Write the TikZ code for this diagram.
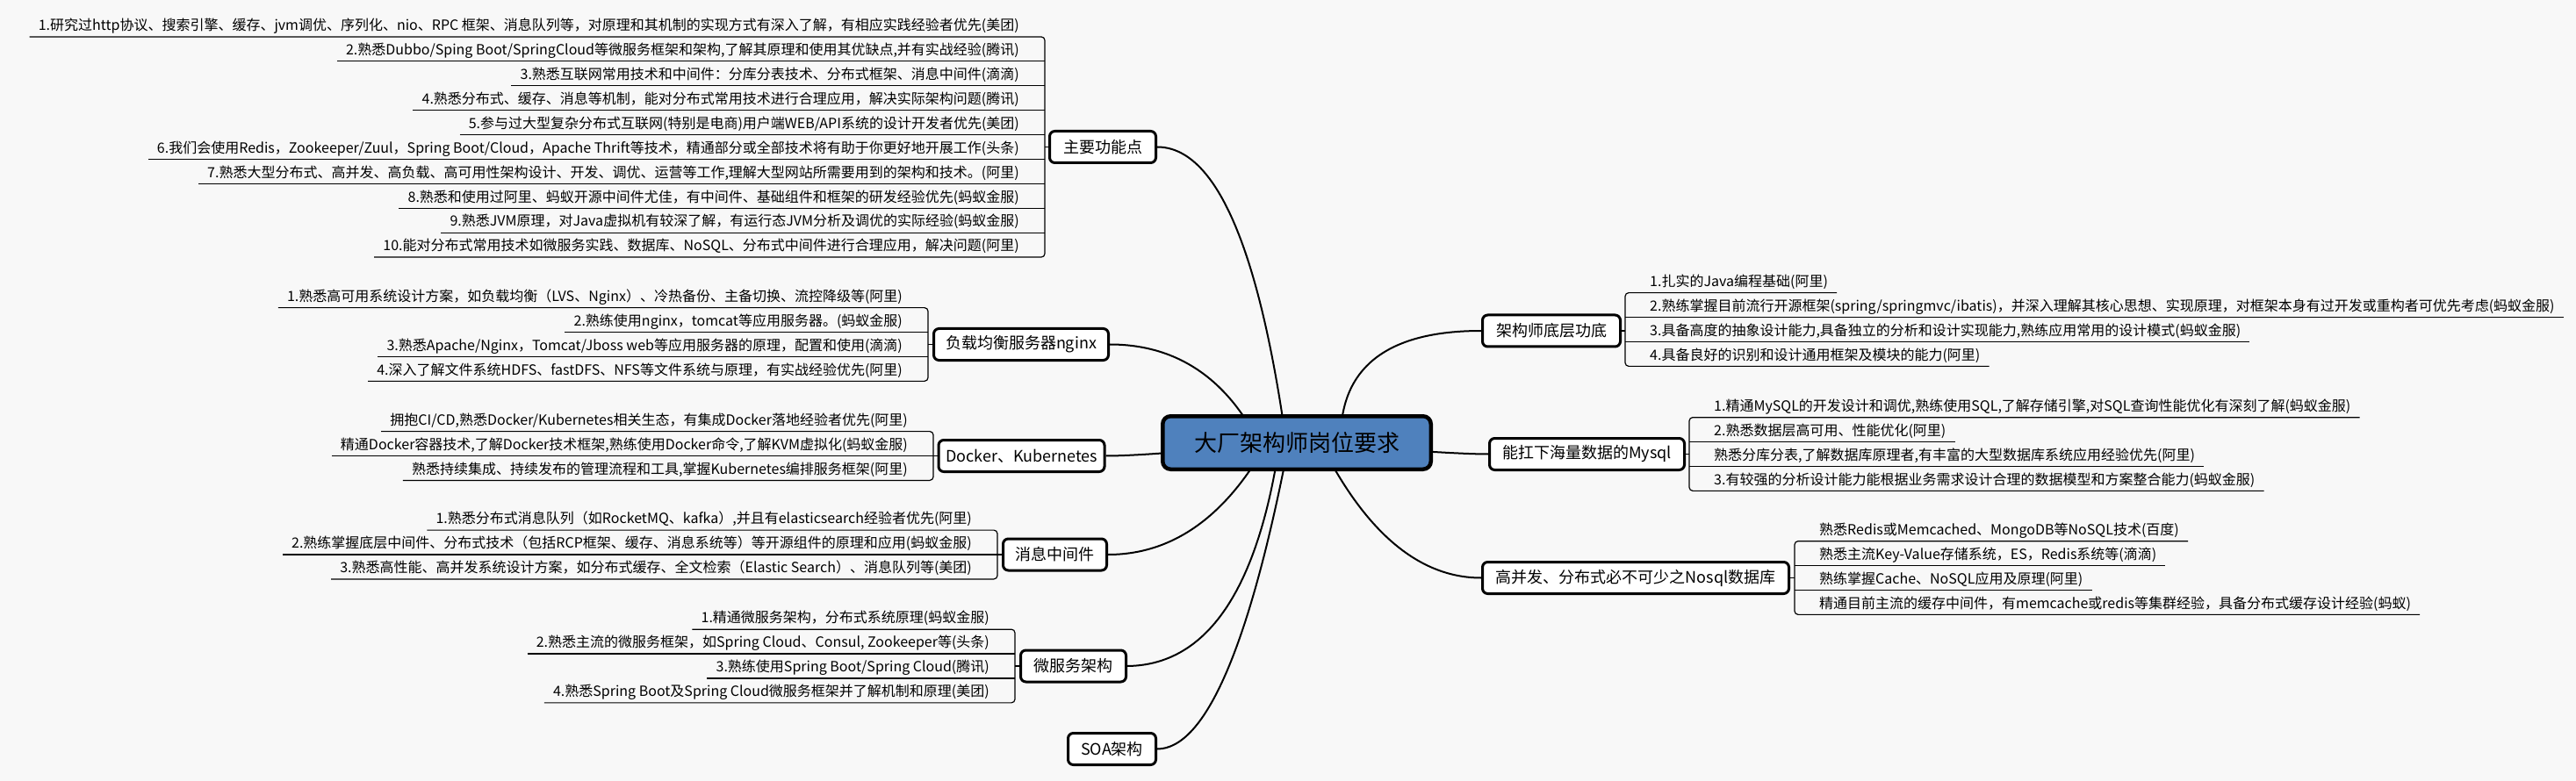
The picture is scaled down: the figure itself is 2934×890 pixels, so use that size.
\documentclass[tikz,border=0pt]{standalone}
\usepackage{fontspec}
\setmainfont{Noto Sans CJK SC}
\usetikzlibrary{backgrounds}
\definecolor{bgc}{HTML}{F8F8F8}
\definecolor{rootblue}{HTML}{4F81BD}
\tikzset{
  rootbox/.style={draw=black, line width=4.5pt, fill=rootblue, rounded corners=9pt,
    minimum width=305.5pt, minimum height=60.5pt, inner sep=0pt,
    font=\fontsize{26pt}{30pt}\selectfont},
  branchbox/.style={draw=black, line width=3pt, fill=white, rounded corners=6pt,
    minimum height=36pt, inner xsep=8pt, inner ysep=0pt,
    font=\fontsize{18pt}{22pt}\selectfont},
  leaf/.style={inner sep=0pt, text height=13pt, text depth=7pt,
    font=\fontsize{16pt}{19pt}\selectfont},
  leafL/.style={leaf, anchor=south east},
  leafR/.style={leaf, anchor=south west},
  uline/.style={line width=1.2pt, draw=black},
  conn/.style={line width=2pt, draw=black},
}
\newcommand\LLeaf[4]{\node[leafL] (#1) at (#2-29,#3) {#4};
  \draw[uline] ([xshift=-10pt]#1.south west) -- (#2,#3);}
\newcommand\LLeafE[4]{\node[leafL] (#1) at (#2-29,#3) {#4};}
\newcommand\RLeaf[4]{\node[leafR] (#1) at (#2+28,#3) {#4};
  \draw[uline] (#2,#3) -- ([xshift=10pt]#1.south east);}
\newcommand\RLeafE[4]{\node[leafR] (#1) at (#2+28,#3) {#4};}
\begin{document}
\begin{tikzpicture}[x=1pt,y=-1pt]
\useasboundingbox (0,0) rectangle (2934,890);

% ---------- root and branches ----------
\node[rootbox] (root) at (1477,504.5) {大厂架构师岗位要求};

\node[branchbox, minimum width=121pt] (mainpts) at (1256,167.5) {主要功能点};
\node[branchbox, minimum width=199pt] (nginx) at (1163,392.5) {负载均衡服务器nginx};
\node[branchbox, minimum width=188pt] (docker) at (1163.5,519.5) {Docker、Kubernetes};
\node[branchbox, minimum width=118pt] (mq) at (1201.5,632) {消息中间件};
\node[branchbox, minimum width=120pt] (micro) at (1222.5,759) {微服务架构};
\node[branchbox, minimum width=100pt] (soa) at (1266.5,853.5) {SOA架构};
\node[branchbox, minimum width=157pt] (arch) at (1767,377) {架构师底层功底};
\node[branchbox, minimum width=222pt] (mysql) at (1807.5,517.5) {能扛下海量数据的Mysql};
\node[branchbox, minimum width=349pt] (nosql) at (1863,658.5) {高并发、分布式必不可少之Nosql数据库};

% ---------- connectors (behind) ----------
\begin{scope}[on background layer]
\fill[bgc] (0,0) rectangle (2934,890);
\draw[conn] (mainpts.east) .. controls (1384.2,167.5) and (1433.7,279.8) .. ([xshift=-12pt]root.center);
\draw[conn] (nginx.east) .. controls (1338.8,392.5) and (1396,429.8) .. ([xshift=-43pt]root.center);
\draw[conn] (docker.east) .. controls (1285.8,519.5) and (1333.3,516.3) .. ([xshift=-77pt,yshift=-5.5pt]root.center);
\draw[conn] (mq.east) .. controls (1334.8,632) and (1395.7,589.5) .. ([xshift=-34pt]root.center);
\draw[conn] (micro.east) .. controls (1374.2,758) and (1432.5,673.5) .. ([xshift=-19.5pt]root.center);
\draw[conn] (soa.east) .. controls (1372.8,853.5) and (1423.3,737.2) .. ([xshift=-9pt]root.center);
\draw[conn] (arch.west) .. controls (1578.8,377) and (1525,419.5) .. ([xshift=50pt]root.center);
\draw[conn] (mysql.west) .. controls (1672.2,517.5) and (1626.7,515) .. ([xshift=83pt,yshift=-5.5pt]root.center);
\draw[conn] (nosql.west) .. controls (1616.8,658.5) and (1555.3,607.2) .. ([xshift=27pt]root.center);
\end{scope}

% ---------- 主要功能点 ----------
\LLeafE{m1}{1190}{41.95}{1.研究过http协议、搜索引擎、缓存、jvm调优、序列化、nio、RPC 框架、消息队列等，对原理和其机制的实现方式有深入了解，有相应实践经验者优先(美团)}
\LLeaf{m2}{1190}{69.85}{2.熟悉Dubbo/Sping Boot/SpringCloud等微服务框架和架构,了解其原理和使用其优缺点,并有实战经验(腾讯)}
\LLeaf{m3}{1190}{97.75}{3.熟悉互联网常用技术和中间件：分库分表技术、分布式框架、消息中间件(滴滴)}
\LLeaf{m4}{1190}{125.65}{4.熟悉分布式、缓存、消息等机制，能对分布式常用技术进行合理应用，解决实际架构问题(腾讯)}
\LLeaf{m5}{1190}{153.55}{5.参与过大型复杂分布式互联网(特别是电商)用户端WEB/API系统的设计开发者优先(美团)}
\LLeaf{m6}{1190}{181.45}{6.我们会使用Redis，Zookeeper/Zuul，Spring Boot/Cloud，Apache Thrift等技术，精通部分或全部技术将有助于你更好地开展工作(头条)}
\LLeaf{m7}{1190}{209.35}{7.熟悉大型分布式、高并发、高负载、高可用性架构设计、开发、调优、运营等工作,理解大型网站所需要用到的架构和技术。(阿里)}
\LLeaf{m8}{1190}{237.25}{8.熟悉和使用过阿里、蚂蚁开源中间件尤佳，有中间件、基础组件和框架的研发经验优先(蚂蚁金服)}
\LLeaf{m9}{1190}{265.15}{9.熟悉JVM原理，对Java虚拟机有较深了解，有运行态JVM分析及调优的实际经验(蚂蚁金服)}
\LLeafE{m10}{1190}{293.05}{10.能对分布式常用技术如微服务实践、数据库、NoSQL、分布式中间件进行合理应用，解决问题(阿里)}
\draw[uline, rounded corners=4pt] ([xshift=-10pt]m1.south west) -- (1190,41.95) -- (1190,293.05) -- ([xshift=-10pt]m10.south west);
\draw[uline] (mainpts.west) -- (1190,167.5);

% ---------- nginx ----------
\LLeafE{n1}{1057}{350.65}{1.熟悉高可用系统设计方案，如负载均衡（LVS、Nginx）、冷热备份、主备切换、流控降级等(阿里)}
\LLeaf{n2}{1057}{378.55}{2.熟练使用nginx，tomcat等应用服务器。(蚂蚁金服)}
\LLeaf{n3}{1057}{406.45}{3.熟悉Apache/Nginx，Tomcat/Jboss web等应用服务器的原理，配置和使用(滴滴)}
\LLeafE{n4}{1057}{434.35}{4.深入了解文件系统HDFS、fastDFS、NFS等文件系统与原理，有实战经验优先(阿里)}
\draw[uline, rounded corners=4pt] ([xshift=-10pt]n1.south west) -- (1057,350.65) -- (1057,434.35) -- ([xshift=-10pt]n4.south west);
\draw[uline] (nginx.west) -- (1057,392.5);

% ---------- Docker ----------
\LLeafE{d1}{1063}{491.6}{拥抱CI/CD,熟悉Docker/Kubernetes相关生态，有集成Docker落地经验者优先(阿里)}
\LLeaf{d2}{1063}{519.5}{精通Docker容器技术,了解Docker技术框架,熟练使用Docker命令,了解KVM虚拟化(蚂蚁金服)}
\LLeafE{d3}{1063}{547.4}{熟悉持续集成、持续发布的管理流程和工具,掌握Kubernetes编排服务框架(阿里)}
\draw[uline, rounded corners=4pt] ([xshift=-10pt]d1.south west) -- (1063,491.6) -- (1063,547.4) -- ([xshift=-10pt]d3.south west);
\draw[uline] (docker.west) -- (1063,519.5);

% ---------- 消息中间件 ----------
\LLeafE{q1}{1136}{604.1}{1.熟悉分布式消息队列（如RocketMQ、kafka）,并且有elasticsearch经验者优先(阿里)}
\LLeaf{q2}{1136}{632}{2.熟练掌握底层中间件、分布式技术（包括RCP框架、缓存、消息系统等）等开源组件的原理和应用(蚂蚁金服)}
\LLeafE{q3}{1136}{659.9}{3.熟悉高性能、高并发系统设计方案，如分布式缓存、全文检索（Elastic Search）、消息队列等(美团)}
\draw[uline, rounded corners=4pt] ([xshift=-10pt]q1.south west) -- (1136,604.1) -- (1136,659.9) -- ([xshift=-10pt]q3.south west);
\draw[uline] (mq.west) -- (1136,632);

% ---------- 微服务架构 ----------
\LLeafE{s1}{1156}{717.15}{1.精通微服务架构，分布式系统原理(蚂蚁金服)}
\LLeaf{s2}{1156}{745.05}{2.熟悉主流的微服务框架，如Spring Cloud、Consul, Zookeeper等(头条)}
\LLeaf{s3}{1156}{772.95}{3.熟练使用Spring Boot/Spring Cloud(腾讯)}
\LLeafE{s4}{1156}{800.85}{4.熟悉Spring Boot及Spring Cloud微服务框架并了解机制和原理(美团)}
\draw[uline, rounded corners=4pt] ([xshift=-10pt]s1.south west) -- (1156,717.15) -- (1156,800.85) -- ([xshift=-10pt]s4.south west);
\draw[uline] (micro.west) -- (1156,759);

% ---------- 架构师底层功底 ----------
\RLeafE{a1}{1851}{333.65}{1.扎实的Java编程基础(阿里)}
\RLeaf{a2}{1851}{361.55}{2.熟练掌握目前流行开源框架(spring/springmvc/ibatis)，并深入理解其核心思想、实现原理，对框架本身有过开发或重构者可优先考虑(蚂蚁金服)}
\RLeaf{a3}{1851}{389.45}{3.具备高度的抽象设计能力,具备独立的分析和设计实现能力,熟练应用常用的设计模式(蚂蚁金服)}
\RLeafE{a4}{1851}{417.35}{4.具备良好的识别和设计通用框架及模块的能力(阿里)}
\draw[uline, rounded corners=4pt] ([xshift=10pt]a1.south east) -- (1851,333.65) -- (1851,417.35) -- ([xshift=10pt]a4.south east);
\draw[uline] (arch.east) -- (1851,377);

% ---------- Mysql ----------
\RLeafE{y1}{1924}{475.65}{1.精通MySQL的开发设计和调优,熟练使用SQL,了解存储引擎,对SQL查询性能优化有深刻了解(蚂蚁金服)}
\RLeaf{y2}{1924}{503.55}{2.熟悉数据层高可用、性能优化(阿里)}
\RLeaf{y3}{1924}{531.45}{熟悉分库分表,了解数据库原理者,有丰富的大型数据库系统应用经验优先(阿里)}
\RLeafE{y4}{1924}{559.35}{3.有较强的分析设计能力能根据业务需求设计合理的数据模型和方案整合能力(蚂蚁金服)}
\draw[uline, rounded corners=4pt] ([xshift=10pt]y1.south east) -- (1924,475.65) -- (1924,559.35) -- ([xshift=10pt]y4.south east);
\draw[uline] (mysql.east) -- (1924,517.5);

% ---------- Nosql ----------
\RLeafE{k1}{2044}{616.65}{熟悉Redis或Memcached、MongoDB等NoSQL技术(百度)}
\RLeaf{k2}{2044}{644.55}{熟悉主流Key-Value存储系统，ES，Redis系统等(滴滴)}
\RLeaf{k3}{2044}{672.45}{熟练掌握Cache、NoSQL应用及原理(阿里)}
\RLeafE{k4}{2044}{700.35}{精通目前主流的缓存中间件，有memcache或redis等集群经验，具备分布式缓存设计经验(蚂蚁)}
\draw[uline, rounded corners=4pt] ([xshift=10pt]k1.south east) -- (2044,616.65) -- (2044,700.35) -- ([xshift=10pt]k4.south east);
\draw[uline] (nosql.east) -- (2044,658.5);
\end{tikzpicture}
\end{document}
